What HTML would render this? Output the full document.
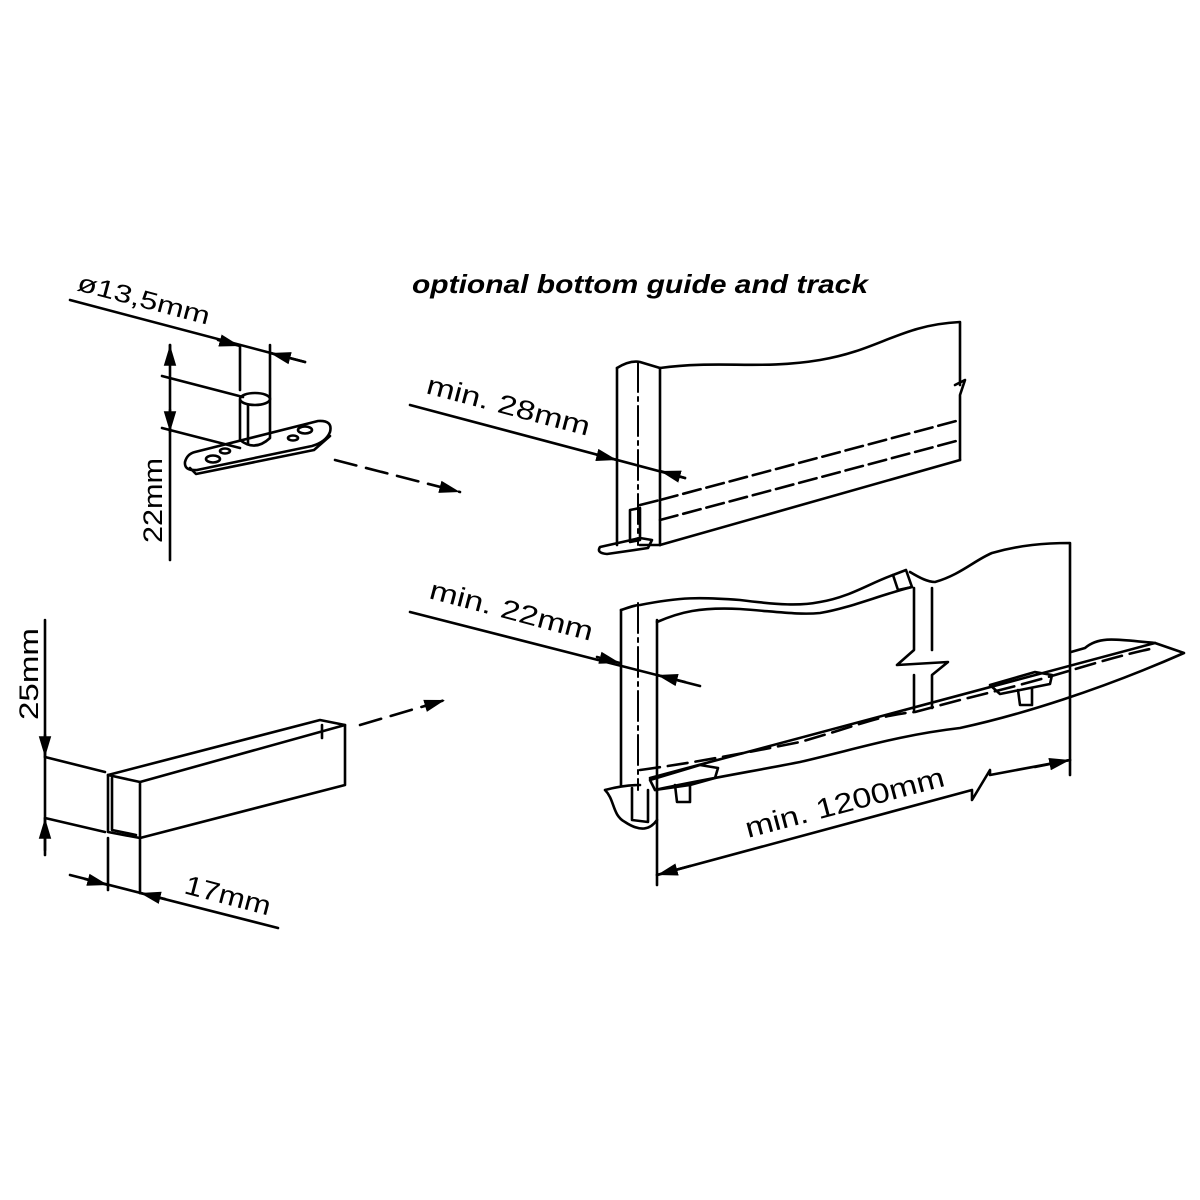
<!DOCTYPE html>
<html><head><meta charset="utf-8"><style>
html,body{margin:0;padding:0;background:#fff}
svg{display:block}
</style></head><body>
<svg width="1200" height="1200" viewBox="0 0 1200 1200" xmlns="http://www.w3.org/2000/svg">
<defs>
<marker id="a" viewBox="0 0 10 10" refX="10" refY="5" markerWidth="8" markerHeight="8" orient="auto-start-reverse"><path d="M0,2 L10,5 L0,8 z" fill="#000"/></marker>
</defs>
<g fill="none" stroke="#000" stroke-width="2.6" stroke-linejoin="round" stroke-linecap="round">

<!-- ===== pin on plate ===== -->
<line x1="70" y1="300" x2="305" y2="362"/>
<line x1="240" y1="390" x2="240" y2="345"/>
<line x1="270" y1="397" x2="270" y2="345"/>
<line x1="218" y1="340" x2="240" y2="346" marker-end="url(#a)"/>
<line x1="305" y1="362" x2="270" y2="353" marker-end="url(#a)"/>
<line x1="170" y1="345" x2="170" y2="560"/>
<line x1="170" y1="360" x2="170" y2="345" marker-end="url(#a)"/>
<line x1="162" y1="376" x2="243" y2="397"/>
<line x1="162" y1="428" x2="240" y2="448"/>
<line x1="170" y1="410" x2="170" y2="432" marker-end="url(#a)"/>
<path d="M195,452 L318,421 Q333,420 330,432 Q326,442 312,446 L197,470 Q184,471 185,462 Q187,454 195,452 Z"/>
<path d="M190,468 L196,474 L314,450 L330,436"/>
<ellipse cx="213" cy="459" rx="7" ry="3.5"/>
<ellipse cx="225" cy="451" rx="5" ry="2.5"/>
<ellipse cx="293" cy="438" rx="5" ry="2.5"/>
<ellipse cx="305" cy="430" rx="7" ry="3.5"/>
<path d="M240,400 L240,440 Q255,452 270,438 L270,398"/>
<ellipse cx="255" cy="399" rx="15" ry="6"/>
<path d="M248,405 L248,443"/>
<path d="M335,460 L460,492" stroke-dasharray="22,10" marker-end="url(#a)"/>

<!-- ===== top door ===== -->
<line x1="410" y1="405" x2="685" y2="478"/>
<line x1="597" y1="455" x2="617" y2="460" marker-end="url(#a)"/>
<line x1="685" y1="478" x2="660" y2="471" marker-end="url(#a)"/>
<path d="M617,368 L617,545 M660,368 L660,545"/>
<path d="M638,362 L638,545" stroke-dasharray="30,5,4,5" stroke-width="2"/>
<path d="M617,368 Q630,360 640,362 L660,368"/>
<path d="M660,368 C720,360 760,370 820,360 C880,350 900,325 960,322 L960,385"/>
<path d="M955,385 L965,380 L960,395 L960,460"/>
<path d="M660,545 L960,460"/>
<path d="M640,545 L660,545"/>
<path d="M660,500 L960,420" stroke-dasharray="18,6"/>
<path d="M640,505 L660,500 M660,520 L960,440" stroke-dasharray="18,6"/>
<path d="M630,510 L640,508 L640,540 L630,542 Z"/>
<path d="M600,547 L640,538 L652,540 L648,548 L607,554 Q596,553 600,547 Z"/>

<!-- ===== U channel ===== -->
<line x1="45" y1="620" x2="45" y2="855"/>
<line x1="45" y1="735" x2="45" y2="757" marker-end="url(#a)"/>
<line x1="45" y1="850" x2="45" y2="818" marker-end="url(#a)"/>
<line x1="45" y1="757" x2="105" y2="772"/>
<line x1="45" y1="818" x2="105" y2="832"/>
<path d="M108,775 L108,832 L140,838 L140,782 Z"/>
<path d="M112,778 L112,830 L136,835"/>
<path d="M108,775 L320,720 L345,725 L140,782"/>
<path d="M140,838 L345,785 L345,725"/>
<path d="M322,725 L322,738"/>
<line x1="108" y1="838" x2="108" y2="890"/>
<line x1="140" y1="838" x2="140" y2="893"/>
<line x1="70" y1="875" x2="278" y2="928"/>
<line x1="85" y1="879" x2="108" y2="885" marker-end="url(#a)"/>
<line x1="165" y1="899" x2="140" y2="893" marker-end="url(#a)"/>
<path d="M360,725 L445,700" stroke-dasharray="22,10" marker-end="url(#a)"/>

<!-- ===== bottom door ===== -->
<line x1="410" y1="612" x2="700" y2="686"/>
<line x1="597" y1="657" x2="620" y2="663" marker-end="url(#a)"/>
<line x1="685" y1="682" x2="657" y2="675" marker-end="url(#a)"/>
<path d="M621,610 L621,785 M657,620 L657,885"/>
<path d="M638,603 L638,790" stroke-dasharray="30,5,4,5" stroke-width="2"/>
<path d="M621,610 C630,607 635,605 640,605 C680,597 700,597 740,600 C780,605 800,606 820,602 C850,597 870,583 893,575"/>
<path d="M657,622 C680,612 700,607 740,609 C780,612 800,615 820,613 C850,608 880,595 912,587"/>
<path d="M893,575 L906,570 L912,587 L898,590 Z"/>
<path d="M910,572 C920,578 928,582 935,582 C960,575 975,560 992,553 C1020,545 1045,543 1070,543 L1070,775"/>
<path d="M914,588 L914,650 L897,665 L948,662 L932,675 L932,708 M914,675 L914,710"/>
<path d="M932,588 L932,650"/>
<!-- track strip -->
<path d="M655,790 C700,780 760,770 800,762 C860,748 900,735 960,728 C1020,715 1100,690 1184,653 L1155,643 C1120,640 1100,635 1085,648 L1071,652"/>
<path d="M650,778 L1155,643"/>
<path d="M640,770 C700,762 760,750 800,742 C860,725 880,715 915,712 L960,700 L1000,690 C1060,675 1100,660 1150,649" stroke-dasharray="20,8"/>
<path d="M605,790 C620,786 630,785 640,785 M605,790 C615,800 612,815 625,822 C640,832 650,830 657,820"/>
<path d="M632,788 L632,820 L648,822 L648,790"/>
<path d="M650,780 L700,765 L718,768 L715,778 L690,785 L655,790 Z"/>
<path d="M675,785 L677,802 L690,802 L690,785"/>
<path d="M990,685 L1035,672 L1052,675 L1050,684 L1000,694 Z"/>
<path d="M1018,690 L1020,705 L1032,705 L1032,688"/>
<!-- 1200 dim -->
<path d="M657,875 L972,790 L972,800 L990,770 L990,775 L1070,760"/>
<line x1="690" y1="866" x2="657" y2="875" marker-end="url(#a)"/>
<line x1="1035" y1="767" x2="1070" y2="760" marker-end="url(#a)"/>
</g>

<g fill="#000">
<text x="412" y="293" style="font-family:'Liberation Sans',sans-serif;font-style:italic;font-weight:bold;font-size:26px" textLength="456" lengthAdjust="spacingAndGlyphs">optional bottom guide and track</text>
<text style="font-family:'Liberation Sans',sans-serif;font-size:25px" textLength="136" lengthAdjust="spacingAndGlyphs" transform="translate(76,290) rotate(14.8)">ø13,5mm</text>
<text style="font-family:'Liberation Sans',sans-serif;font-size:27px" textLength="85" lengthAdjust="spacingAndGlyphs" transform="translate(162,543) rotate(-90)">22mm</text>
<text style="font-family:'Liberation Sans',sans-serif;font-size:27px" textLength="168" lengthAdjust="spacingAndGlyphs" transform="translate(425,393) rotate(14.8)">min.  28mm</text>
<text style="font-family:'Liberation Sans',sans-serif;font-size:27px" textLength="168" lengthAdjust="spacingAndGlyphs" transform="translate(428,598) rotate(14.8)">min.  22mm</text>
<text style="font-family:'Liberation Sans',sans-serif;font-size:27px" textLength="92" lengthAdjust="spacingAndGlyphs" transform="translate(38,720) rotate(-90)">25mm</text>
<text style="font-family:'Liberation Sans',sans-serif;font-size:27px" textLength="88" lengthAdjust="spacingAndGlyphs" transform="translate(183,893) rotate(14.8)">17mm</text>
<text style="font-family:'Liberation Sans',sans-serif;font-size:28px" textLength="205" lengthAdjust="spacingAndGlyphs" transform="translate(748,838) rotate(-14.8)">min.  1200mm</text>
</g>
</svg>
</body></html>
